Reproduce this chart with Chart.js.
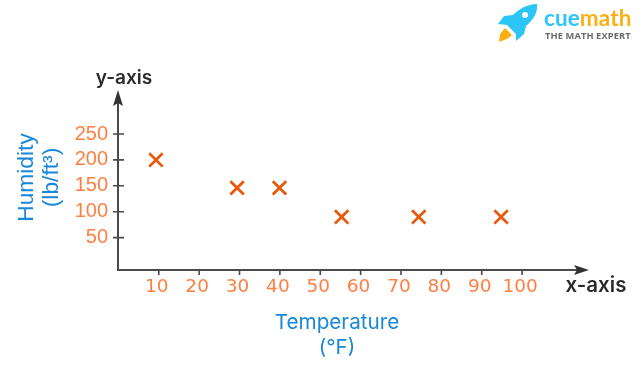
<!DOCTYPE html>
<html>
<head>
<meta charset="utf-8">
<script src="https://cdn.jsdelivr.net/npm/chart.js@4"></script>
<style>
  html, body { margin: 0; padding: 0; background: #fff; }
  #wrap { position: relative; width: 642px; height: 368px; overflow: hidden; }
  #logo { position: absolute; left: 496px; top: 0; width: 146px; height: 46px; }
  #brand { position: absolute; left: 48px; top: 5px; font: 700 22.5px/26px Lato, sans-serif; letter-spacing: .1px; }
  #brand .a { color: #2bc6f5; }
  #brand .b { color: #fbb116; }
  #tag { position: absolute; left: 49px; top: 30px; font: 700 9.3px/12px "Open Sans", sans-serif; color: #6b6b6b; white-space: nowrap; letter-spacing: .1px; }
</style>
</head>
<body>
<div id="wrap">
  <canvas id="chart" width="642" height="368"></canvas>
  <div id="logo">
    <svg width="46" height="46" style="position:absolute;left:0;top:0">
      <path d="M3 42 L4 34 L9 28 L16 35 L11 39 Z" fill="#fbb116"/>
      <path d="M41 4 C31 4 23 9 17 15 L8 16 L2 24 L11 25 L20 34 L20 41 L28 34 L30 26 C37 20 42 13 41 4 Z" fill="#2bc6f5"/>
      <circle cx="29" cy="15" r="3" fill="#fff"/>
    </svg>
    <div id="brand"><span class="a">cue</span><span class="b">math</span></div>
    <div id="tag">THE MATH EXPERT</div>
  </div>
</div>
<script>
const temperature = [9.3, 29.4, 39.9, 55.3, 74.4, 94.8];
const humidity = [200, 146, 146, 90, 90, 90];
const xTicks = [10, 20, 30, 40, 50, 60, 70, 80, 90, 100];
const yTicks = [50, 100, 150, 200, 250];
const xTitle = 'Temperature';
const xUnit = '(°F)';
const yTitle = 'Humidity';
const yUnit = '(lb/ft³)';

const axisColor = '#4a4a4a';
const tickColor = '#ff7f41';

// axes, arrow heads and the two axis names
const axisArrows = {
  id: 'axisArrows',
  afterDatasetsDraw(chart) {
    const c = chart.ctx;
    const a = chart.chartArea;
    const xs = chart.scales.x;
    const ys = chart.scales.y;
    c.save();
    c.strokeStyle = axisColor;
    c.fillStyle = '#333';
    c.lineWidth = 2;
    c.beginPath();
    c.moveTo(a.left, 96);
    c.lineTo(a.left, a.bottom);
    c.lineTo(582, a.bottom);
    c.stroke();
    c.lineWidth = 1.6;
    c.beginPath();
    xTicks.forEach(v => {
      const px = xs.getPixelForValue(v);
      c.moveTo(px, a.bottom);
      c.lineTo(px, a.bottom + 5);
    });
    yTicks.forEach(v => {
      const py = ys.getPixelForValue(v);
      c.moveTo(a.left - 5, py);
      c.lineTo(a.left + 6, py);
    });
    c.stroke();
    // arrow heads
    c.beginPath();
    c.moveTo(a.left, 90);
    c.lineTo(a.left + 5, 106);
    c.lineTo(a.left, 103);
    c.lineTo(a.left - 5, 106);
    c.closePath();
    c.moveTo(589, a.bottom);
    c.lineTo(574, a.bottom - 5);
    c.lineTo(577, a.bottom);
    c.lineTo(574, a.bottom + 5);
    c.closePath();
    c.fill();
    c.fillStyle = '#2b2b2b';
    c.textAlign = 'center';
    c.textBaseline = 'middle';
    c.font = '600 19px Inter, sans-serif';
    c.fillText('y-axis', 124, 78);
    c.font = '600 20.5px Inter, sans-serif';
    c.fillText('x-axis', 596, 286);
    c.restore();
  }
};

new Chart(document.getElementById('chart').getContext('2d'), {
  type: 'scatter',
  data: {
    datasets: [{
      data: temperature.map((t, i) => ({ x: t, y: humidity[i] })),
      pointStyle: 'crossRot',
      pointRadius: 9.5,
      pointBorderWidth: 2.8,
      borderColor: '#e8590c',
      backgroundColor: '#e8590c'
    }]
  },
  options: {
    responsive: false,
    animation: false,
    layout: { padding: { top: 85, right: 86, left: 0, bottom: 0 } },
    plugins: { legend: { display: false }, tooltip: { enabled: false } },
    scales: {
      x: {
        type: 'linear',
        min: -0.1,
        max: 108.4,
        afterBuildTicks: s => { s.ticks = xTicks.map(v => ({ value: v })); },
        afterFit: s => { s.height = 98; },
        grid: { display: false, drawTicks: false },
        border: { display: false },
        ticks: {
          color: tickColor,
          padding: 6,
          maxRotation: 0,
          autoSkip: false,
          labelOffset: -2,
          font: { family: 'DejaVu Sans', size: 18.5 }
        },
        title: {
          display: true,
          text: [xTitle, xUnit],
          color: '#1b87d8',
          padding: { top: 0, bottom: 8 },
          font: { family: 'Inter', size: 20.7, weight: '400', lineHeight: 1.21 }
        }
      },
      y: {
        type: 'linear',
        min: -12.5,
        max: 344.6,
        afterBuildTicks: s => { s.ticks = yTicks.map(v => ({ value: v })); },
        afterFit: s => { s.width = 118; },
        grid: { display: false, drawTicks: false },
        border: { display: false },
        ticks: {
          color: tickColor,
          padding: 10,
          autoSkip: false,
          font: { family: 'Liberation Sans', size: 20 }
        },
        title: {
          display: true,
          text: [yTitle, yUnit],
          color: '#1b87d8',
          padding: { top: 14, bottom: 0 },
          font: { family: 'Liberation Sans', size: 22.8, lineHeight: 1.1 }
        }
      }
    }
  },
  plugins: [axisArrows]
});
</script>
</body>
</html>
